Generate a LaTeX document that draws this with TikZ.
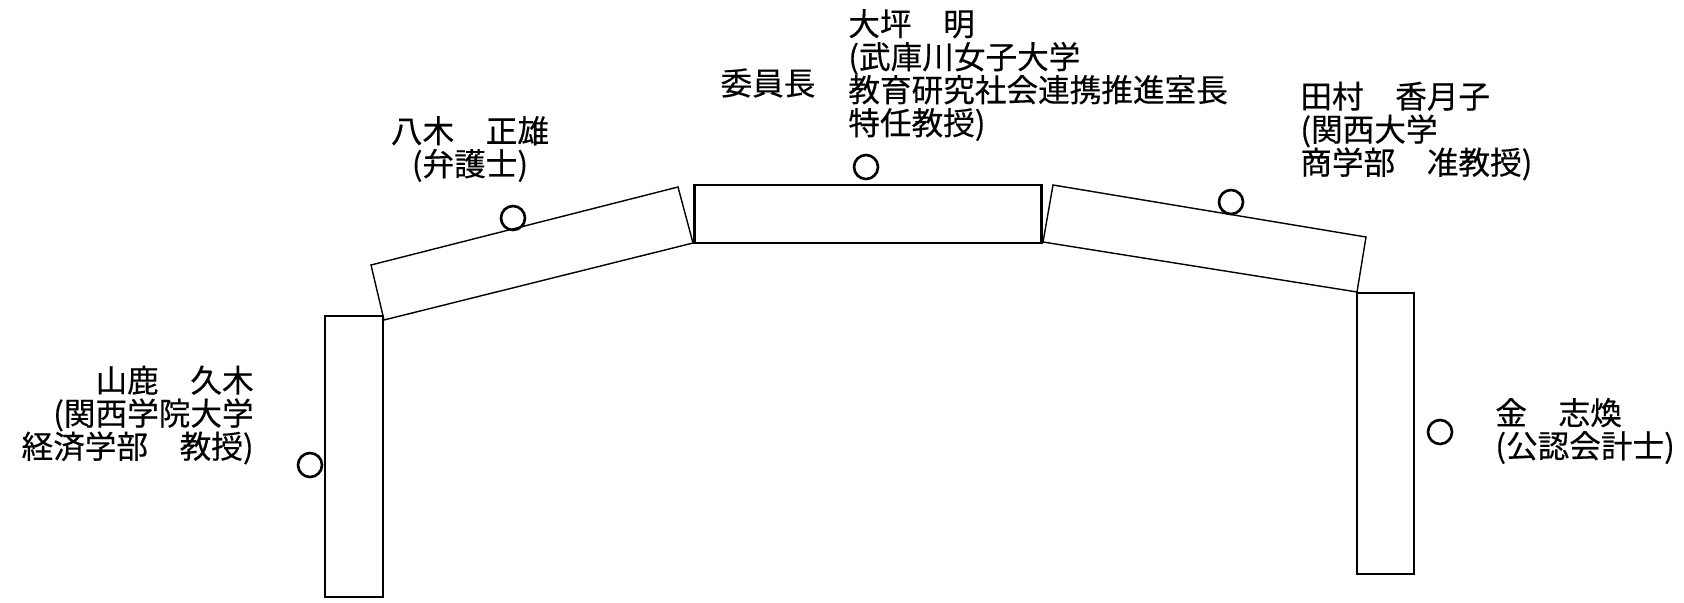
\documentclass[tikz,border=0pt]{standalone}
\usepackage{fontspec}
\setmainfont{Noto Sans CJK JP}[UprightFeatures={FakeBold=0.35}]
\usetikzlibrary{positioning}

\begin{document}
\begin{tikzpicture}[x=0.02cm, y=-0.02cm,
    desk/.style={draw, line width=0.8pt},
    headdesk/.style={draw, line width=1.7pt},
    chair/.style={draw, line width=1.5pt},
    member/.style={font=\fontsize{18}{18.8}\selectfont, inner sep=0pt}]
    \useasboundingbox (0,0) rectangle (1684,602);

    % Desks
    \draw[desk] (325,316) rectangle (383,597);
    \draw[desk] (371,265) -- (678,187) -- (693,243) -- (384,320) -- cycle;
    \draw[headdesk] (694,185) rectangle (1041,243);
    \draw[desk] (1053,185) -- (1366,237) -- (1357,292) -- (1043,242) -- cycle;
    \draw[desk] (1357,293) rectangle (1414,574);

    % Chairs
    \foreach \cx/\cy in {310/465, 513/218, 866/167, 1231/202, 1440/432}
        \draw[chair] (\cx,\cy) circle[radius=12];

    % Members
    \node[member] (chairtitle) at (768,83) {委員長};
    \node[member, anchor=west, align=left] (ohtsubo) at (848,75)
        {大坪　明\\(武庫川女子大学\\教育研究社会連携推進室長\\特任教授)};
    \node[member, align=center] (yagi) at (470,149) {八木　正雄\\(弁護士)};
    \node[member, anchor=east, align=right] (yamaka) at (254,415)
        {山鹿　久木\\(関西学院大学\\経済学部　教授)};
    \node[member, anchor=west, align=left] (tamura) at (1300,131)
        {田村　香月子\\(関西大学\\商学部　准教授)};
    \node[member, anchor=west, align=left] (kim) at (1495,431)
        {金　志煥\\(公認会計士)};
\end{tikzpicture}
\end{document}
